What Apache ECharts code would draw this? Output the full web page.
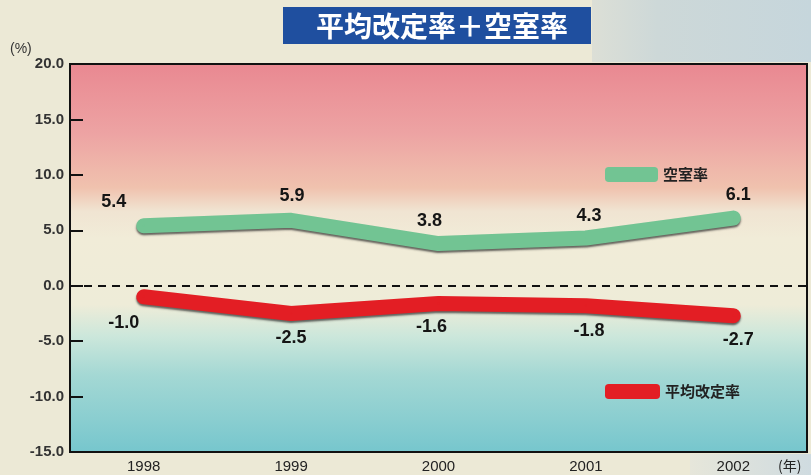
<!DOCTYPE html>
<html>
<head>
<meta charset="utf-8">
<script src="https://cdn.jsdelivr.net/npm/echarts@6/dist/echarts.min.js"></script>
<style>
  html, body { margin: 0; padding: 0; background: #ece9d6; }
  #chart { width: 811px; height: 475px; }
</style>
</head>
<body>
<div id="chart"></div>
<script>
// Years on the category axis
const years = ['1998', '1999', '2000', '2001', '2002'];
// Vacancy rate (%)
const vacancyRate = [5.4, 5.9, 3.8, 4.3, 6.1];
// Average rent revision rate (%)
const revisionRate = [-1.0, -2.5, -1.6, -1.8, -2.7];
// Value-axis ticks
const yTicks = [-15, -10, -5, 0, 5, 10, 15, 20];

const chart = echarts.init(document.getElementById('chart'));

const labelFont = {
  fontFamily: 'Liberation Sans, Arial, sans-serif',
  fontWeight: 'bold',
  fontSize: 18,
  color: '#151515'
};

// per-point label offsets so numbers sit like the printed chart
const vacancyOffsets = [[-30, 0], [1, 0], [-9, 1], [3, 2], [5, 1]];
const revisionOffsets = [[-20, 2], [0, 1], [-7, 0], [3, 1], [5, 0]];

const plotBg = new echarts.graphic.LinearGradient(0, 0, 0, 1, [
  { offset: 0.00, color: '#e98891' },
  { offset: 0.18, color: '#eda3a3' },
  { offset: 0.32, color: '#f0c2ae' },
  { offset: 0.38, color: '#f0e4d2' },
  { offset: 0.45, color: '#f1ecd8' },
  { offset: 0.62, color: '#eeecd8' },
  { offset: 0.70, color: '#cce7db' },
  { offset: 0.80, color: '#a4d8d4' },
  { offset: 1.00, color: '#76c6cd' }
]);

function lineSeries(name, values, color, position, offsets) {
  return {
    name: name,
    type: 'line',
    data: values.map((v, i) => ({ value: v, label: { offset: offsets[i] } })),
    color: color,
    symbol: 'circle',
    symbolSize: 2,
    itemStyle: { color: color },
    lineStyle: {
      width: 15, cap: 'round', join: 'round', color: color,
      shadowColor: 'rgba(40,40,40,0.7)', shadowBlur: 2, shadowOffsetY: 2
    },
    label: {
      show: true, position: position, distance: 14, ...labelFont,
      formatter: p => p.value.toFixed(1)
    },
    z: 3
  };
}

const vacancySeries = lineSeries('空室率', vacancyRate, '#72c493', 'top', vacancyOffsets);
const revisionSeries = lineSeries('平均改定率', revisionRate, '#e31e24', 'bottom', revisionOffsets);
// dashed zero reference line
revisionSeries.markLine = {
  silent: true,
  symbol: 'none',
  label: { show: false },
  lineStyle: { color: '#111', type: [8, 6], width: 2 },
  data: [{ yAxis: 0 }]
};

chart.setOption({
  backgroundColor: '#ece9d6',
  animation: false,
  graphic: [
    // pale blue print texture at the top right and bottom right of the page
    {
      type: 'rect', z: -10,
      shape: { x: 592, y: 0, width: 219, height: 62 },
      style: { fill: new echarts.graphic.LinearGradient(0, 0, 1, 0, [
        { offset: 0, color: '#dcdfd6' }, { offset: 0.3, color: '#cdd8d8' }, { offset: 1, color: '#c6d6dc' }
      ]) }
    },
    {
      type: 'rect', z: -10,
      shape: { x: 690, y: 454, width: 121, height: 21 },
      style: { fill: new echarts.graphic.LinearGradient(0, 0, 1, 0, [
        { offset: 0, color: '#e6e6da' }, { offset: 1, color: '#cfdbe0' }
      ]) }
    },
    // title plate
    {
      type: 'rect',
      shape: { x: 283, y: 7, width: 308, height: 37 },
      style: { fill: '#1f4f9f' }
    },
    {
      type: 'text',
      style: {
        text: '平均改定率＋空室率',
        fill: '#ffffff',
        font: 'bold 28px "Noto Sans CJK JP", sans-serif',
        x: 442, y: 26, align: 'center', verticalAlign: 'middle'
      }
    },
    {
      type: 'text',
      style: { text: '(%)', fill: '#333', font: '14px "Liberation Sans", Arial, sans-serif', x: 10, y: 42 }
    },
    {
      type: 'text',
      style: { text: '(年)', fill: '#222', font: '14px "Noto Sans CJK JP", sans-serif', x: 778, y: 459 }
    }
  ],
  grid: {
    left: 70, right: 4, top: 64, bottom: 23,
    show: true,
    backgroundColor: plotBg,
    borderColor: '#111',
    borderWidth: 2
  },
  legend: [
    {
      data: ['空室率'],
      left: 600, top: 162,
      icon: 'roundRect', itemWidth: 53, itemHeight: 15, itemGap: 10,
      textStyle: { fontFamily: '"Noto Sans CJK JP", sans-serif', fontSize: 15, fontWeight: 'bold', color: '#222' }
    },
    {
      data: ['平均改定率'],
      left: 600, top: 379,
      icon: 'roundRect', itemWidth: 55, itemHeight: 15, itemGap: 10,
      textStyle: { fontFamily: '"Noto Sans CJK JP", sans-serif', fontSize: 15, fontWeight: 'bold', color: '#222' }
    }
  ],
  xAxis: {
    type: 'category',
    data: years,
    boundaryGap: true,
    axisLine: { onZero: false, lineStyle: { color: '#111', width: 2 } },
    axisTick: { inside: true, length: 10, lineStyle: { color: '#111', width: 2 } },
    axisLabel: {
      margin: 7, color: '#222',
      fontFamily: 'Liberation Sans, Arial, sans-serif', fontSize: 15
    },
    splitLine: { show: false }
  },
  yAxis: {
    type: 'value',
    min: yTicks[0], max: yTicks[yTicks.length - 1], interval: 5,
    axisLine: { show: true, lineStyle: { color: '#111', width: 2 } },
    axisTick: { show: true, inside: true, length: 13, lineStyle: { color: '#111', width: 2 } },
    axisLabel: {
      margin: 6, color: '#333',
      fontFamily: 'Liberation Sans, Arial, sans-serif', fontSize: 15, fontWeight: 'bold',
      formatter: v => v.toFixed(1)
    },
    splitLine: { show: false }
  },
  series: [vacancySeries, revisionSeries]
});
</script>
</body>
</html>
